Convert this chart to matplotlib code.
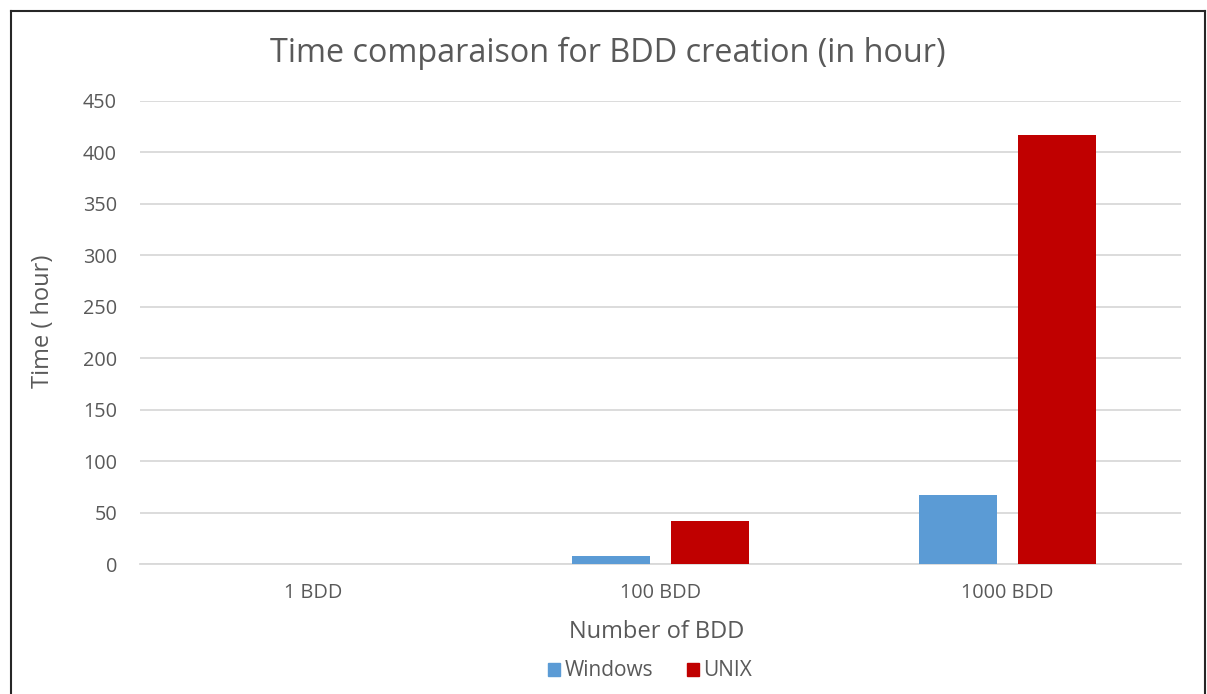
import matplotlib
matplotlib.use("Agg")
import matplotlib.pyplot as plt
from matplotlib.lines import Line2D
from matplotlib.patches import Patch
import numpy as np

categories = ["1 BDD", "100 BDD", "1000 BDD"]
windows = [0.4, 7.8, 67.5]
unix = [0.1, 41.5, 417]
series_names = ["Windows", "UNIX"]
yticks = [0, 50, 100, 150, 200, 250, 300, 350, 400, 450]

plt.rcParams['font.family'] = ['Open Sans', 'DejaVu Sans']
txt = '#595959'
c_win = '#5b9bd5'
c_unix = '#c00000'

fig = plt.figure(figsize=(12.07, 6.94), dpi=100)
ax = fig.add_axes([140/1207, 1-564/694, (1181-140)/1207, (564-101)/694])

x = np.arange(len(categories))
w = 0.224
off = 0.143
ax.bar(x - off, windows, w, color=c_win, zorder=3)
ax.bar(x + off, unix, w, color=c_unix, zorder=3)

ax.set_xlim(-0.5, 2.5)
ax.set_ylim(0, 450)
ax.set_yticks(yticks)
ax.set_yticklabels([str(v) for v in yticks])
ax.set_xticks(x)
ax.set_xticklabels(categories)
ax.yaxis.grid(True, color='#d9d9d9', linewidth=1.3, zorder=0)
for s in ['top', 'right', 'left']:
    ax.spines[s].set_visible(False)
ax.spines['bottom'].set_color('#d9d9d9')
ax.spines['bottom'].set_linewidth(1.3)
ax.tick_params(axis='both', length=0, labelsize=14.3, colors=txt)
ax.tick_params(axis='y', pad=16.5)
ax.tick_params(axis='x', pad=14)

fig.text(608/1207, 1-53/694, "Time comparaison for BDD creation (in hour)",
         ha='center', va='center', fontsize=23.3, color=txt)
fig.text(43/1207, 1-321/694, "Time ( hour)", rotation=90, ha='center', va='center',
         fontsize=17, color=txt)
fig.text(657/1207, 1-632/694, "Number of BDD", ha='center', va='center',
         fontsize=17, color=txt)

handles = [Patch(color=c_win), Patch(color=c_unix)]
fig.legend(handles, series_names, loc='center', bbox_to_anchor=(650/1207, 1-671/694),
           ncol=2, frameon=False, fontsize=15, labelcolor=txt,
           handlelength=0.6, handleheight=0.6, handletextpad=0.2, columnspacing=1.6)

# figure border (left, top, right)
lc = '#262626'
fig.add_artist(Line2D([10.5/1207, 10.5/1207], [0, 1-10.5/694], transform=fig.transFigure, color=lc, lw=1.5))
fig.add_artist(Line2D([10.5/1207, 1205/1207], [1-10.5/694, 1-10.5/694], transform=fig.transFigure, color=lc, lw=1.5))
fig.add_artist(Line2D([1205/1207, 1205/1207], [0, 1-10.5/694], transform=fig.transFigure, color=lc, lw=1.5))

fig.savefig("out.png", dpi=100)
